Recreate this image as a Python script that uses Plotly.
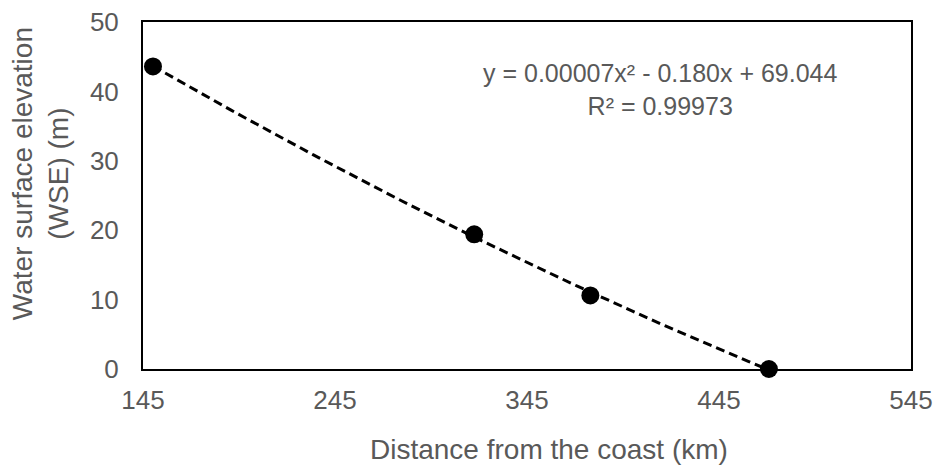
import numpy as np
import plotly.graph_objects as go

# Data
distance_km = [150.2, 317.5, 378.0, 471.0]
wse_m = [43.6, 19.4, 10.6, 0.0]
x_ticks = [145, 245, 345, 445, 545]
y_ticks = [0, 10, 20, 30, 40, 50]
equation_text = "y = 0.00007x² - 0.180x + 69.044<br>R² = 0.99973"
x_title = "Distance from the coast (km)"
y_title = "Water surface elevation<br>(WSE) (m)"

# Quadratic trendline fitted to the data (as in the original chart)
coef = np.polyfit(distance_km, wse_m, 2)
xf = np.linspace(min(distance_km), max(distance_km), 120)
yf = np.polyval(coef, xf)

FONT = "Liberation Sans, Arial, sans-serif"
GREY = "#595959"

fig = go.Figure()
fig.add_trace(go.Scatter(
    x=xf, y=yf, mode="lines",
    line=dict(color="black", width=3, dash="9px,5px"),
    hoverinfo="skip", showlegend=False,
))
fig.add_trace(go.Scatter(
    x=distance_km, y=wse_m, mode="markers",
    marker=dict(color="black", size=18),
    showlegend=False, cliponaxis=False,
))

fig.update_layout(
    width=938, height=470,
    margin=dict(l=143, r=27, t=22, b=101, autoexpand=False),
    paper_bgcolor="white", plot_bgcolor="white",
    font=dict(family=FONT, size=26, color=GREY),
    xaxis=dict(
        range=[145, 545], tickvals=x_ticks, ticktext=[str(v) for v in x_ticks],
        showgrid=False, zeroline=False, automargin=False,
        showline=True, mirror=True, linecolor="black", linewidth=2,
        ticks="", ticklabelstandoff=7,
        tickfont=dict(family=FONT, size=26, color=GREY),
    ),
    yaxis=dict(
        range=[0, 50], tickvals=y_ticks, ticktext=[str(v) for v in y_ticks],
        showgrid=False, zeroline=False, automargin=False,
        showline=True, mirror=True, linecolor="black", linewidth=2,
        ticks="", ticklabelstandoff=17,
        tickfont=dict(family=FONT, size=26, color=GREY),
    ),
    annotations=[
        dict(text=equation_text, xref="paper", yref="paper",
             x=(660 - 143) / 768, y=(368.7 - 89) / 346.7,
             xanchor="center", yanchor="middle", showarrow=False,
             align="center", font=dict(family=FONT, size=25, color=GREY)),
        dict(text=x_title, xref="paper", yref="paper",
             x=(549 - 143) / 768, y=(368.7 - 449) / 346.7,
             xanchor="center", yanchor="middle", showarrow=False,
             font=dict(family=FONT, size=28, color=GREY)),
        dict(text=y_title, xref="paper", yref="paper",
             x=(40 - 143) / 768, y=(368.7 - 174) / 346.7,
             xanchor="center", yanchor="middle", showarrow=False,
             textangle=-90, align="center",
             font=dict(family=FONT, size=28, color=GREY)),
    ],
)

fig.write_html("out.html", config={"displayModeBar": False},
               post_script="document.body.style.margin='0';")
